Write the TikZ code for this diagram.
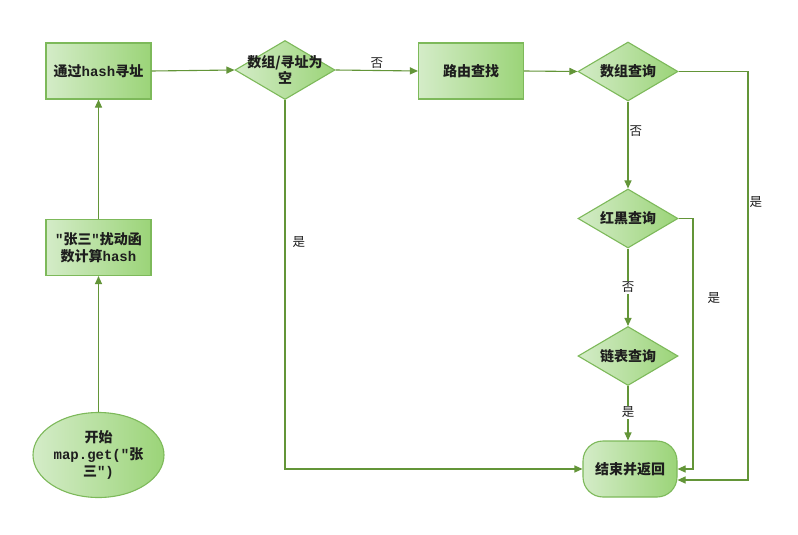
\documentclass[tikz,border=0pt]{standalone}
\usepackage{fontspec}
\newfontfamily\cjk{Noto Sans CJK SC}
\newfontfamily\mono{Liberation Mono}
\usetikzlibrary{shapes.geometric,arrows.meta,calc}
\definecolor{lineg}{HTML}{639538}
\definecolor{bord}{HTML}{7DB95A}
\definecolor{fillA}{HTML}{D4ECC8}
\definecolor{fillB}{HTML}{9BD478}
\definecolor{txt}{HTML}{1E1E1E}
\begin{document}
\begin{tikzpicture}[x=1pt,y=-1pt,
 shapebase/.style={draw=bord, line width=1.1pt, left color=fillA, right color=fillB, font=\cjk\bfseries\fontsize{14}{17}\selectfont, text=txt, align=center, inner sep=0pt},
 box/.style={shapebase, rectangle, minimum width=105pt, minimum height=56pt},
 dia/.style={shapebase, diamond, minimum width=100pt, minimum height=59pt},
 ell/.style={shapebase, ellipse, minimum width=131pt, minimum height=85pt},
 term/.style={shapebase, rectangle, rounded corners=20pt, minimum width=94pt, minimum height=56pt},
 dlab/.style={font=\cjk\bfseries\fontsize{14}{15.5}\selectfont, text=txt, align=center, inner sep=0pt},
 conn/.style={draw=lineg, line width=1.1pt, -{Triangle[length=8pt,width=7pt]}},
 lab/.style={font=\cjk\fontsize{12.5}{14}\selectfont, text=txt, inner sep=1pt},
]
\useasboundingbox[fill=white] (0,0) rectangle (798,535);

\node[ell] (start) at (98.5,455) {开始\\{\mono\bfseries map.get("}张\\三{\mono\bfseries ")}};
\node[box] (hashc) at (98.5,247.5) {{\mono\bfseries "}张三{\mono\bfseries "}扰动函\\数计算{\mono\bfseries hash}};
\node[box] (addr) at (98.5,71) {通过{\mono\bfseries hash}寻址};
\node[dia, label={[dlab]center:数组/寻址为\\空}] (empty) at (285,70) {};
\node[box] (route) at (471,71) {路由查找};
\node[dia, label={[dlab]center:数组查询}] (arr) at (628,71.5) {};
\node[dia, label={[dlab]center:红黑查询}] (rb) at (628,218.5) {};
\node[dia, label={[dlab]center:链表查询}] (list) at (628,356) {};
\node[term] (end) at (630,469) {结束并返回};

\coordinate (rbturn) at (693,218.5);
\coordinate (rbdown) at (693,469);
\coordinate (aturn) at (748,71.5);
\coordinate (adown) at (748,480);

\draw[conn] (start.north) -- (hashc.south);
\draw[conn] (hashc.north) -- (addr.south);
\draw[conn] (addr.east) -- (empty.west);
\draw[conn] (empty.east) -- node[lab,above]{否} (route.west);
\draw[conn] (empty.south) |- node[lab,right,pos=0.193,xshift=6pt]{是} (end.west);
\draw[conn] (route.east) -- (arr.west);
\draw[conn] (arr.south) -- node[lab,right,pos=0.34]{否} (rb.north);
\draw[conn] (rb.south) -- node[lab,fill=white,pos=0.5]{否} (list.north);
\draw[conn] (list.south) -- node[lab,fill=white,pos=0.48]{是} (list.south |- end.north);
\draw[conn] (rb.east) -- (rbturn) -- node[lab,right,xshift=13pt,pos=0.316]{是} (rbdown) -- (end.east);
\draw[conn] (arr.east) -- (aturn) -- node[lab,right,pos=0.32]{是} (adown) -- (end.east |- adown);
\end{tikzpicture}
\end{document}
